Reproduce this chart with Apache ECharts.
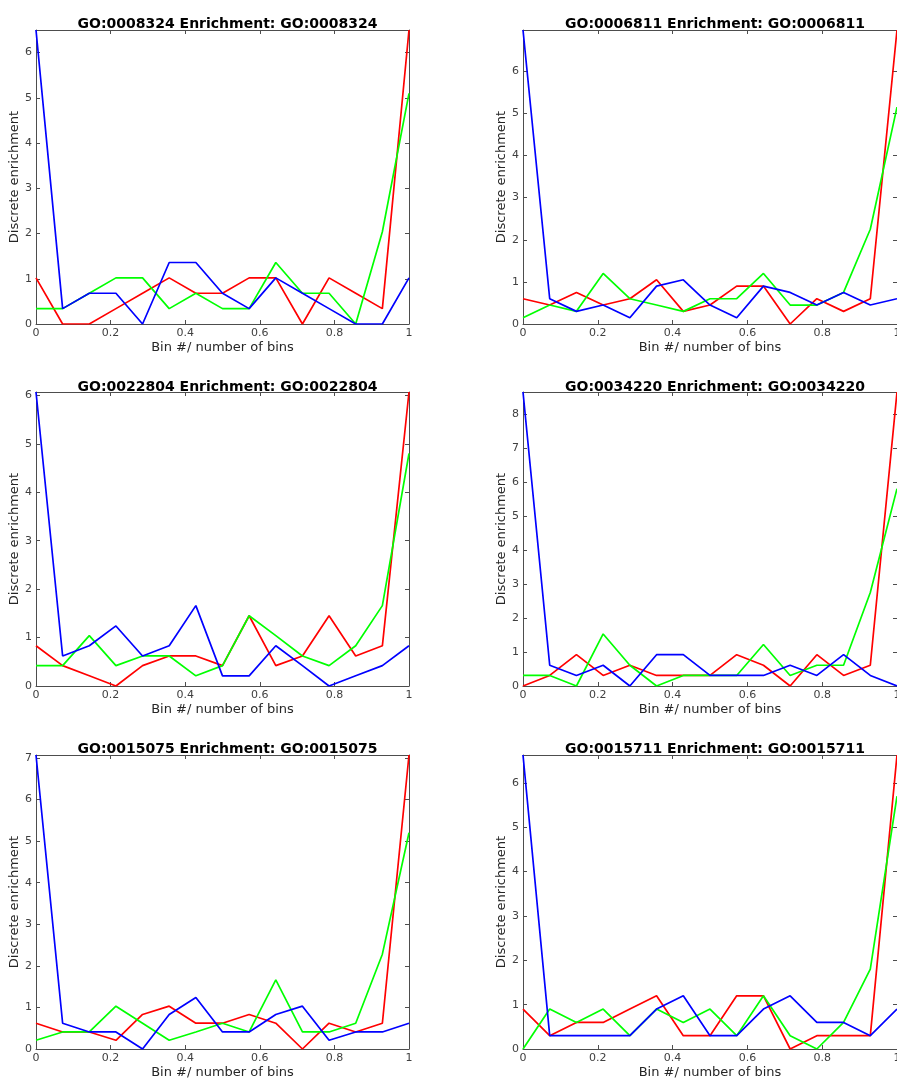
<!DOCTYPE html>
<html>
	<head>
		<meta charset="utf-8">
		<title>Enrichment</title>
		<script src="https://cdn.jsdelivr.net/npm/echarts@6/dist/echarts.min.js"></script>
		<style>
			body { margin:0; background:#fff; }
			#chart { width:897px; height:1080px; }
		</style>
	</head>
	<body>
		<div id="chart"></div>
		<script type="text/javascript">
			// bin positions (bin # / number of bins)
			var bins = [0, 0.0714, 0.1429, 0.2143, 0.2857, 0.3571, 0.4286, 0.5, 0.5714, 0.6429, 0.7143, 0.7857, 0.8571, 0.9286, 1];

			var titles = ['GO:0008324', 'GO:0006811', 'GO:0022804', 'GO:0034220', 'GO:0015075', 'GO:0015711'];
			var yMax = [6.5, 6.98, 6.07, 8.64, 7.07, 6.63];

			var red1   = [1.02, 0, 0, 0.34, 0.68, 1.02, 0.68, 0.68, 1.02, 1.02, 0, 1.02, 0.68, 0.34, 6.5];
			var green1 = [0.34, 0.34, 0.68, 1.02, 1.02, 0.34, 0.68, 0.34, 0.34, 1.36, 0.68, 0.68, 0, 2.04, 5.1];
			var blue1  = [6.5, 0.34, 0.68, 0.68, 0, 1.36, 1.36, 0.68, 0.34, 1.02, 0.68, 0.34, 0, 0, 1.02];

			var red2   = [0.6, 0.45, 0.75, 0.45, 0.6, 1.05, 0.3, 0.45, 0.9, 0.9, 0, 0.6, 0.3, 0.6, 6.98];
			var green2 = [0.15, 0.45, 0.3, 1.2, 0.6, 0.45, 0.3, 0.6, 0.6, 1.2, 0.45, 0.45, 0.75, 2.25, 5.15];
			var blue2  = [6.98, 0.6, 0.3, 0.45, 0.15, 0.9, 1.05, 0.45, 0.15, 0.9, 0.75, 0.45, 0.75, 0.45, 0.6];

			var red3   = [0.83, 0.42, 0.21, 0, 0.42, 0.62, 0.62, 0.42, 1.45, 0.42, 0.62, 1.45, 0.62, 0.83, 6.07];
			var green3 = [0.42, 0.42, 1.04, 0.42, 0.62, 0.62, 0.21, 0.42, 1.45, 1.04, 0.62, 0.42, 0.83, 1.66, 4.8];
			var blue3  = [6.07, 0.62, 0.83, 1.24, 0.62, 0.83, 1.66, 0.21, 0.21, 0.83, 0.42, 0, 0.21, 0.42, 0.83];

			var red4   = [0, 0.31, 0.92, 0.31, 0.61, 0.31, 0.31, 0.31, 0.92, 0.61, 0, 0.92, 0.31, 0.61, 8.64];
			var green4 = [0.31, 0.31, 0, 1.53, 0.61, 0, 0.31, 0.31, 0.31, 1.22, 0.31, 0.61, 0.61, 2.75, 5.8];
			var blue4  = [8.64, 0.61, 0.31, 0.61, 0, 0.92, 0.92, 0.31, 0.31, 0.31, 0.61, 0.31, 0.92, 0.31, 0];

			var red5   = [0.62, 0.41, 0.41, 0.21, 0.83, 1.03, 0.62, 0.62, 0.83, 0.62, 0, 0.62, 0.41, 0.62, 7.07];
			var green5 = [0.21, 0.41, 0.41, 1.03, 0.62, 0.21, 0.41, 0.62, 0.41, 1.66, 0.41, 0.41, 0.62, 2.28, 5.2];
			var blue5  = [7.07, 0.62, 0.41, 0.41, 0, 0.83, 1.24, 0.41, 0.41, 0.83, 1.03, 0.21, 0.41, 0.41, 0.62];

			var red6   = [0.9, 0.3, 0.6, 0.6, 0.9, 1.2, 0.3, 0.3, 1.2, 1.2, 0, 0.3, 0.3, 0.3, 6.63];
			var green6 = [0, 0.9, 0.6, 0.9, 0.3, 0.9, 0.6, 0.9, 0.3, 1.2, 0.3, 0, 0.6, 1.8, 5.7];
			var blue6  = [6.63, 0.3, 0.3, 0.3, 0.3, 0.9, 1.2, 0.3, 0.3, 0.9, 1.2, 0.6, 0.6, 0.3, 0.9];

			var panels = [
				[red1, green1, blue1], [red2, green2, blue2],
				[red3, green3, blue3], [red4, green4, blue4],
				[red5, green5, blue5], [red6, green6, blue6]
			];
			var colors = ['#ff0000', '#00ff00', '#0000ff'];

			// plot box layout (pixels)
			var lefts = [36, 523];
			var tops = [30, 392, 755];
			var plotW = [373, 374];
			var plotH = 294;
			var titleTops = [12, 375, 737];

			var axisColor = '#4d4d4d';
			var font = 'DejaVu Sans';

			var grid = [], xAxis = [], yAxis = [], series = [], title = [];

			for (var i = 0; i < 6; i++) {
				var col = i % 2, row = Math.floor(i / 2);
				grid.push({
					left: lefts[col], top: tops[row], width: plotW[col], height: plotH,
					containLabel: false, outerBoundsMode: 'none'
				});
				title.push({
					text: titles[i] + ' Enrichment: ' + titles[i],
					left: lefts[col] + plotW[col] / 2,
					top: titleTops[row],
					textAlign: 'center',
					textStyle: {fontFamily: font, fontSize: 14, fontWeight: 'bold', color: '#000'}
				});
				// bottom / left axes carry labels
				xAxis.push({
					type: 'value', gridIndex: i, min: 0, max: 1, interval: 0.2, position: 'bottom',
					name: 'Bin #/ number of bins', nameLocation: 'middle', nameGap: 17,
					nameTextStyle: {fontFamily: font, fontSize: 13, color: '#262626'},
					axisLine: {show: true, onZero: false, lineStyle: {color: axisColor, width: 1}},
					axisTick: {show: true, inside: true, length: 4, lineStyle: {color: axisColor}},
					axisLabel: {fontFamily: font, fontSize: 11, color: '#404040', margin: 4},
					splitLine: {show: false}
				});
				xAxis.push({
					type: 'value', gridIndex: i, min: 0, max: 1, interval: 0.2, position: 'top',
					axisLine: {show: true, onZero: false, lineStyle: {color: axisColor, width: 1}},
					axisTick: {show: true, inside: true, length: 4, lineStyle: {color: axisColor}},
					axisLabel: {show: false},
					splitLine: {show: false}
				});
				yAxis.push({
					type: 'value', gridIndex: i, min: 0, max: yMax[i], interval: 1, position: 'left',
					name: 'Discrete enrichment', nameLocation: 'middle', nameGap: 11,
					nameTextStyle: {fontFamily: font, fontSize: 13, color: '#262626'},
					axisLine: {show: true, onZero: false, lineStyle: {color: axisColor, width: 1}},
					axisTick: {show: true, inside: true, length: 4, lineStyle: {color: axisColor}},
					axisLabel: {
						fontFamily: font, fontSize: 11, color: '#404040', margin: 4,
						formatter: function (v) { return Math.abs(v - Math.round(v)) < 1e-6 ? String(Math.round(v)) : ''; }
					},
					splitLine: {show: false}
				});
				yAxis.push({
					type: 'value', gridIndex: i, min: 0, max: yMax[i], interval: 1, position: 'right',
					axisLine: {show: true, onZero: false, lineStyle: {color: axisColor, width: 1}},
					axisTick: {show: true, inside: true, length: 4, lineStyle: {color: axisColor}},
					axisLabel: {show: false},
					splitLine: {show: false}
				});
				for (var s = 0; s < 3; s++) {
					series.push({
						type: 'line',
						xAxisIndex: i * 2,
						yAxisIndex: i * 2,
						data: bins.map(function (x, k) { return [x, panels[i][s][k]]; }),
						showSymbol: false,
						symbol: 'none',
						clip: true,
						animation: false,
						lineStyle: {color: colors[s], width: 1.7},
						itemStyle: {color: colors[s]}
					});
				}
			}

			var myChart = echarts.init(document.getElementById('chart'));
			myChart.setOption({
				animation: false,
				title: title,
				grid: grid,
				xAxis: xAxis,
				yAxis: yAxis,
				series: series
			});
		</script>
	</body>
</html>
